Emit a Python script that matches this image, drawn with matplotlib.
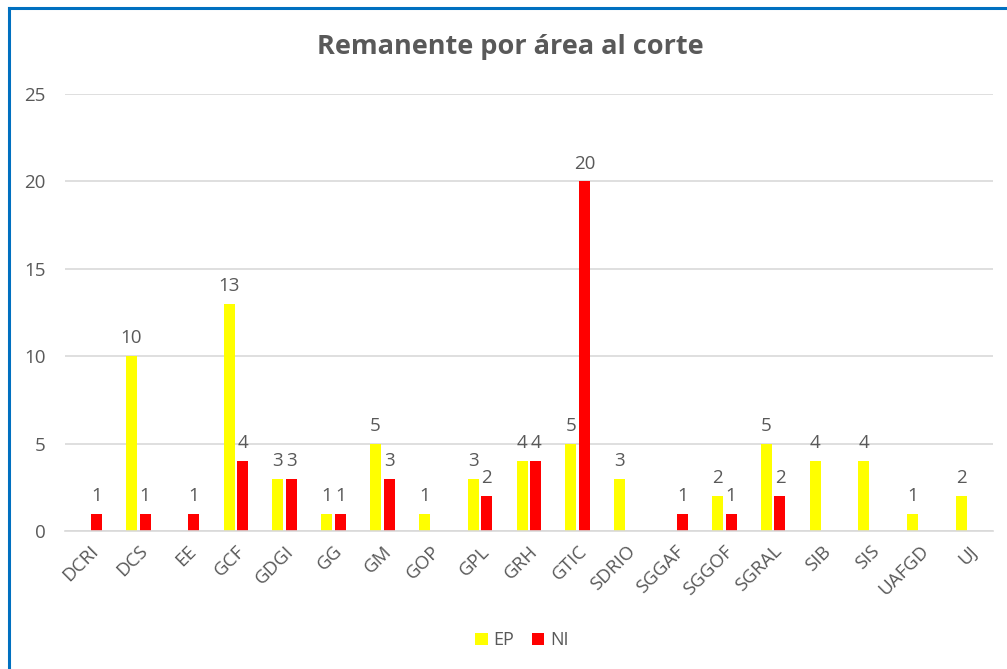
import numpy as np
import matplotlib.pyplot as plt
from matplotlib.lines import Line2D

areas = ['DCRI', 'DCS', 'EE', 'GCF', 'GDGI', 'GG', 'GM', 'GOP', 'GPL', 'GRH',
         'GTIC', 'SDRIO', 'SGGAF', 'SGGOF', 'SGRAL', 'SIB', 'SIS', 'UAFGD', 'UJ']
ep = [0, 10, 0, 13, 3, 1, 5, 1, 3, 4, 5, 3, 0, 2, 5, 4, 4, 1, 2]
ni = [1, 1, 1, 4, 3, 1, 3, 0, 2, 4, 20, 0, 1, 1, 2, 0, 0, 0, 0]

gray = '#595959'
plt.rcParams['font.family'] = ['Open Sans', 'DejaVu Sans']

fig = plt.figure(figsize=(10.07, 6.69), dpi=100)
ax = fig.add_axes([0.0645, 0.2063, 0.9215, 0.6532])

x = np.arange(len(areas))
w = 0.225
off = 0.14
b1 = ax.bar(x - off, ep, w, color='#FFFF00', label='EP')
b2 = ax.bar(x + off, ni, w, color='#FF0000', label='NI')

for bars, vals in ((b1, ep), (b2, ni)):
    for r, v in zip(bars, vals):
        if v > 0:
            ax.text(r.get_x() + r.get_width() / 2, v + 0.5, str(v),
                    ha='center', va='bottom', fontsize=13.5, color=gray)

ax.set_xlim(-0.5, len(areas) - 0.5)
ax.set_ylim(0, 25)
ax.set_yticks(range(0, 26, 5))
ax.yaxis.grid(True, color='#d9d9d9', linewidth=1.2)
ax.set_axisbelow(True)
for s in ['top', 'right', 'left']:
    ax.spines[s].set_visible(False)
ax.spines['bottom'].set_color('#d9d9d9')
ax.spines['bottom'].set_linewidth(1.2)
ax.tick_params(axis='both', length=0, colors=gray, labelsize=13.5)
ax.tick_params(axis='y', pad=14)
ax.tick_params(axis='x', pad=8)
ax.set_xticks(x)
ax.set_xticklabels(areas, rotation=45, ha='right', rotation_mode='anchor')

fig.text(0.507, 0.93, 'Remanente por área al corte', ha='center', va='center',
         fontsize=19.5, fontweight='bold', color=gray)

fig.legend(handles=[b1, b2], loc='center', bbox_to_anchor=(0.518, 0.043), ncol=2,
           frameon=False, fontsize=13, labelcolor=gray, handlelength=0.7,
           handleheight=0.7, handletextpad=0.3, columnspacing=1.0)

fig.add_artist(Line2D([0.009, 1.0], [0.988, 0.988], color='#0070C0', linewidth=2.2,
                      transform=fig.transFigure))
fig.add_artist(Line2D([0.009, 0.009], [0.0, 0.988], color='#0070C0', linewidth=2.2,
                      transform=fig.transFigure))

fig.savefig('out.png', dpi=100)
